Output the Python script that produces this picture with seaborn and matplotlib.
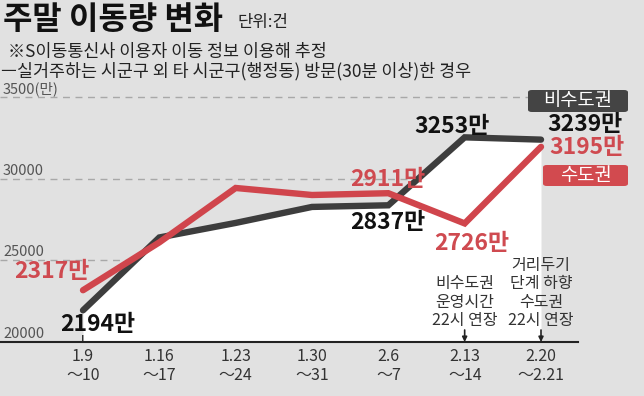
import matplotlib
matplotlib.use("Agg")
import matplotlib.pyplot as plt
from matplotlib.patches import FancyBboxPatch
import seaborn as sns
import pandas as pd

# weekly mobility (unit: 만 건)
weeks = ["1.9\n～10", "1.16\n～17", "1.23\n～24", "1.30\n～31", "2.6\n～7", "2.13\n～14", "2.20\n～2.21"]
non_capital = [2194, 2640, 2729, 2827, 2837, 3253, 3239]
capital = [2317, 2610, 2943, 2900, 2911, 2726, 3195]
grid_vals = [2500, 3000, 3500]
grid_labels = ["25000", "30000", "3500(만)"]

labelled = {  # which points get a number label
    "비수도권": [0, 4, 5, 6],
    "수도권": [0, 4, 5, 6],
}

BLACK = "#3d3d3d"
RED = "#d0454c"
BG = "#e1e1e1"

sns.set_theme(style="white")
plt.rcParams["font.family"] = ["Noto Sans CJK KR", "DejaVu Sans"]

W, H = 644, 396
fig = plt.figure(figsize=(W / 100, H / 100), dpi=100, facecolor=BG)

# axes placement: axis line at y=342px, 20000 -> 342, 35000 -> 97
px_per_unit = (342 - 97) / 1500
step = (541 - 83) / 6
ax = fig.add_axes([0, (H - 342) / H, 1, (342 - 90) / H])
ax.set_facecolor("none")
ax.set_xlim(-83 / step, (W - 83) / step)
ax.set_ylim(2000, 2000 + (342 - 90) / px_per_unit)

df = pd.DataFrame({
    "pos": list(range(len(weeks))) * 2,
    "value": non_capital + capital,
    "region": ["비수도권"] * len(weeks) + ["수도권"] * len(weeks),
})

# white area under the 비수도권 line
ax.fill_between(range(len(weeks)), non_capital, 2000, color="white", zorder=1, lw=0)

sns.lineplot(data=df, x="pos", y="value", hue="region", hue_order=["비수도권", "수도권"],
             palette={"비수도권": BLACK, "수도권": RED}, linewidth=4.6, legend=False,
             sort=False, ax=ax, zorder=3)
for ln in ax.get_lines():
    ln.set_solid_capstyle("round")
    ln.set_solid_joinstyle("miter")

# dashed guide lines + their labels
x_left = -83 / step + 3 / step
for v, lab in zip(grid_vals, grid_labels):
    ax.axhline(v, xmin=0, xmax=0.82, color="#a8a8a8", lw=1, dashes=(5, 4), zorder=0.5)
    ax.text(x_left, v + 1 / px_per_unit, lab, fontsize=10.5, color="#555555",
            ha="left", va="bottom")
ax.text(x_left, 2000 + 1 / px_per_unit, "20000", fontsize=10.5, color="#555555",
        ha="left", va="bottom")

# number labels (offsets in pixels)
offsets = {
    ("비수도권", 0): (15, -14), ("비수도권", 4): (-1, -17), ("비수도권", 5): (-13, 11),
    ("비수도권", 6): (44, 15),
    ("수도권", 0): (-31, 19), ("수도권", 4): (-1, 14), ("수도권", 5): (7, -20),
    ("수도권", 6): (46, -1),
}
series = {"비수도권": (non_capital, "#111111"), "수도권": (capital, "#cf4a50")}
for name, idxs in labelled.items():
    vals, col = series[name]
    for i in idxs:
        ax.annotate(f"{vals[i]}만", xy=(i, vals[i]), xytext=offsets[(name, i)],
                    textcoords="offset pixels", ha="center", va="center",
                    fontsize=16.5, fontweight="bold", color=col, zorder=5)

# x axis
ax.set_yticks([])
ax.set_xticks(range(len(weeks)))
ax.set_xticklabels(weeks, fontsize=11.5, color="#333333", linespacing=1.2)
ax.tick_params(axis="x", direction="in", length=5, width=1.3, color="#222222", pad=4,
               bottom=True)
ax.set_xlabel("")
ax.set_ylabel("")
for s in ["top", "right", "left"]:
    ax.spines[s].set_visible(False)
ax.spines["bottom"].set_color("#222222")
ax.spines["bottom"].set_linewidth(1.5)
ax.spines["bottom"].set_bounds(-83 / step, (578 - 83) / step)

# policy notes with arrows
notes = {5: "비수도권\n운영시간\n22시 연장", 6: "거리두기\n단계 하향\n수도권\n22시 연장"}
for i, txt in notes.items():
    ax.text(i, 2000 + 13 / px_per_unit, txt, ha="center", va="bottom", fontsize=11.5,
            color="#333333", linespacing=1.1, zorder=5)
    ax.annotate("", xy=(i, 2000), xytext=(i, 2000 + 12 / px_per_unit),
                arrowprops=dict(arrowstyle="-|>", color="#222222", lw=1.2,
                                mutation_scale=7, shrinkA=0, shrinkB=0))

# series name boxes
for (x0, y0, x1, y1), txt, fc in [((528, 90, 628, 112), "비수도권", "#444444"),
                                   ((543, 165, 628, 186), "수도권", "#d24a4f")]:
    fig.patches.append(FancyBboxPatch((x0 / W, 1 - y1 / H), (x1 - x0) / W, (y1 - y0) / H,
                                      boxstyle="round,pad=0,rounding_size=0.006",
                                      transform=fig.transFigure, fc=fc, ec="none", zorder=4))
    fig.text((x0 + x1) / 2 / W, 1 - (y0 + y1) / 2 / H, txt, ha="center", va="center",
             fontsize=13.5, color="white", zorder=6)

# title and notes
fig.text(3 / W, 1 - 20 / H, "주말 이동량 변화", fontsize=23, fontweight="bold",
         color="#111111", ha="left", va="center")
fig.text(237 / W, 1 - 23 / H, "단위:건", fontsize=12, color="#222222", ha="left", va="center")
fig.text(8 / W, 1 - 52 / H, "※S이동통신사 이용자 이동 정보 이용해 추정", fontsize=12.5,
         color="#222222", ha="left", va="center")
fig.text(1 / W, 1 - 71 / H, "ㅡ실거주하는 시군구 외 타 시군구(행정동) 방문(30분 이상)한 경우",
         fontsize=12.5, color="#222222", ha="left", va="center")

fig.savefig("out.png", dpi=100, facecolor=BG)
